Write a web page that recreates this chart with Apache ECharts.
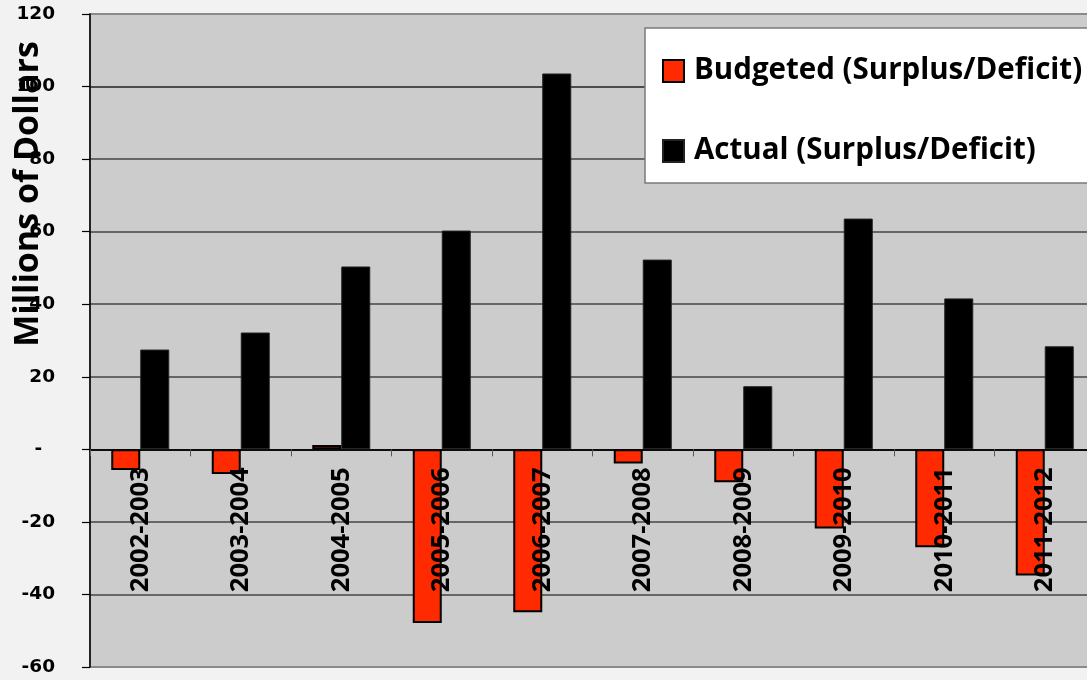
<!DOCTYPE html>
<html>
<head>
<meta charset="utf-8">
<title>Budgeted vs Actual Surplus/Deficit</title>
<script src="https://cdn.jsdelivr.net/npm/echarts@6/dist/echarts.min.js"></script>
<style>
  html, body { margin: 0; padding: 0; background: #f2f2f2; }
  #chart { width: 1087px; height: 680px; }
</style>
</head>
<body>
<div id="chart"></div>
<script>
// Fiscal years on the category axis
const years = ['2002-2003', '2003-2004', '2004-2005', '2005-2006', '2006-2007',
               '2007-2008', '2008-2009', '2009-2010', '2010-2011', '2011-2012'];
// Millions of dollars
const budgeted = [-5.7, -6.8, 1.2, -47.9, -44.9, -3.9, -9.1, -21.8, -27.0, -34.8];
const actual   = [27.5, 32.2, 50.4, 60.3, 103.6, 52.3, 17.4, 63.6, 41.6, 28.4];
const seriesNames = ['Budgeted (Surplus/Deficit)', 'Actual (Surplus/Deficit)'];
const axisTitle = 'Millions of Dollars';
const yMin = -60, yMax = 120, yStep = 20;

const chart = echarts.init(document.getElementById('chart'), null, { renderer: 'canvas' });

chart.setOption({
  backgroundColor: '#f2f2f2',
  animation: false,
  grid: {
    left: 90, top: 14, bottom: 13, right: -8,
    show: true,
    backgroundColor: '#cccccc',
    borderColor: '#8a8a8a',
    borderWidth: 2,
    containLabel: false,
    outerBoundsMode: 'none'
  },
  legend: {
    orient: 'vertical',
    left: 645, top: 28,
    padding: [28, 40, 17, 17],
    backgroundColor: '#ffffff',
    borderColor: '#7a7a7a',
    borderWidth: 1.5,
    itemWidth: 21, itemHeight: 22,
    itemGap: 50,
    icon: 'rect',
    textStyle: {
      fontFamily: '"Open Sans", sans-serif',
      fontWeight: 'bold',
      fontSize: 29.5,
      lineHeight: 30,
      color: '#000',
      padding: [0, 0, 0, 5]
    },
    data: seriesNames
  },
  xAxis: {
    type: 'category',
    data: years,
    boundaryGap: true,
    z: 10,
    axisLine: { onZero: false, lineStyle: { color: '#000', width: 1.5 } },
    axisTick: { show: true, interval: 0, length: 7, lineStyle: { color: '#555', width: 1 } },
    axisLabel: {
      interval: 0,
      rotate: 90,
      margin: 18,
      padding: [10, 0, 0, 0],
      fontFamily: '"Open Sans", sans-serif',
      fontWeight: 'bold',
      fontSize: 25.5,
      color: '#000'
    },
    splitLine: { show: false }
  },
  yAxis: {
    type: 'value',
    min: yMin, max: yMax, interval: yStep,
    axisLine: { show: true, lineStyle: { color: '#000', width: 1.5 } },
    axisTick: { show: true, length: 8, lineStyle: { color: '#000', width: 1.2 } },
    axisLabel: {
      margin: 35,
      fontFamily: '"DejaVu Sans", sans-serif',
      fontWeight: 'bold',
      fontSize: 18.5,
      color: '#000',
      formatter: v => (v === 0 ? '-  ' : String(v))
    },
    splitLine: {
      show: true,
      lineStyle: {
        width: 1.5,
        color: ['#8a8a8a', '#444', '#444', '#000', '#444', '#444', '#444', '#444', '#222', '#8a8a8a']
      }
    }
  },
  graphic: [{
    type: 'text',
    x: 28, y: 194,
    rotation: Math.PI / 2,
    z: 100,
    style: {
      text: axisTitle,
      fontFamily: '"Open Sans", sans-serif',
      fontWeight: 'bold',
      fontSize: 34,
      fill: '#000',
      textAlign: 'center',
      textVerticalAlign: 'middle'
    }
  }],
  series: [
    {
      name: seriesNames[0],
      type: 'bar',
      data: budgeted,
      barWidth: 29,
      barGap: '0%',
      itemStyle: { color: '#ff2a00', borderColor: '#000', borderWidth: 2 }
    },
    {
      name: seriesNames[1],
      type: 'bar',
      data: actual,
      barWidth: 29,
      itemStyle: { color: '#000', borderColor: '#222', borderWidth: 1 }
    }
  ]
});

// Lift the category axis (line, ticks and year labels) up to the zero value
const zeroY = chart.convertToPixel({ yAxisIndex: 0 }, 0);
const floorY = chart.convertToPixel({ yAxisIndex: 0 }, yMin);
chart.setOption({ xAxis: { offset: zeroY - floorY } });
</script>
</body>
</html>
